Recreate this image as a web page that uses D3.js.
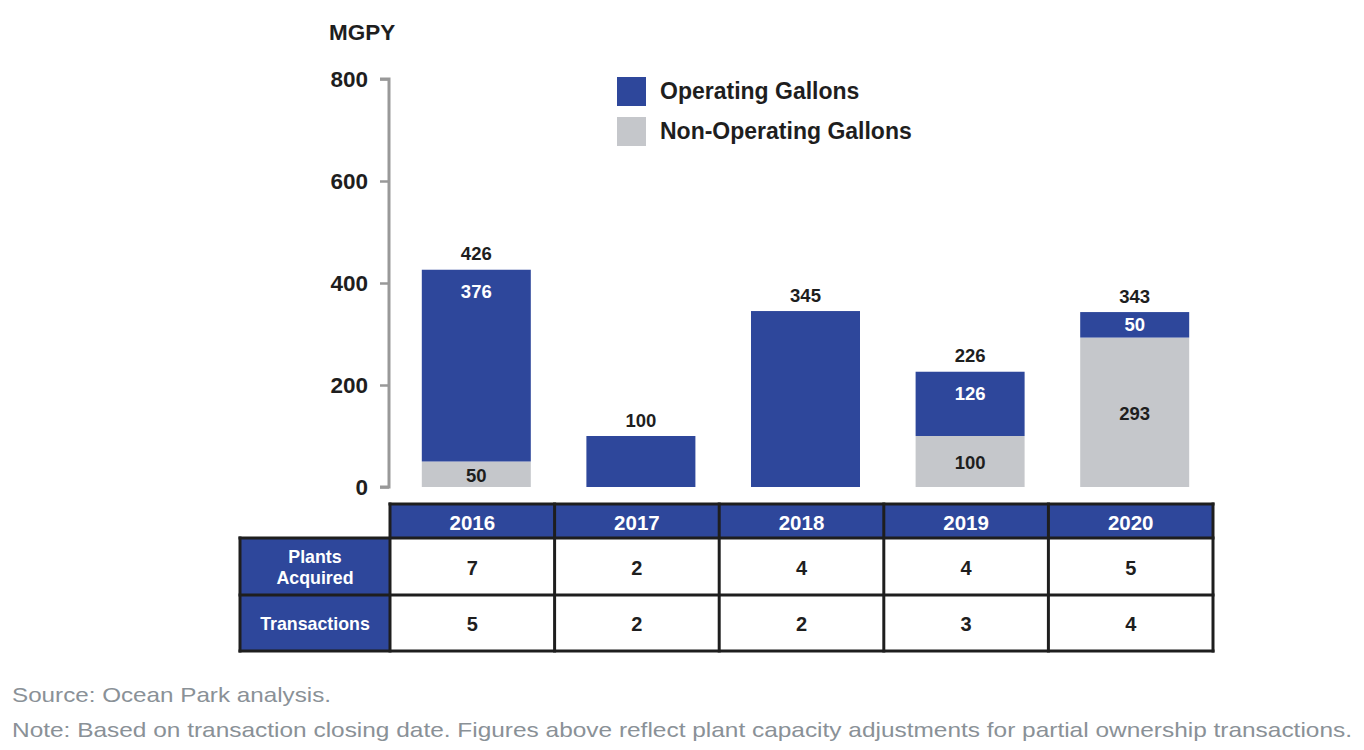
<!DOCTYPE html>
<html><head><meta charset="utf-8">
<script src="https://cdn.jsdelivr.net/npm/d3@7"></script>
<style>body{margin:0;background:#fff;}svg{display:block;font-family:"Liberation Sans",Arial,sans-serif;}</style>
</head><body>
<svg id="chart" width="1364" height="750"></svg>
<script>
const years = ["2016","2017","2018","2019","2020"];
const operating = [376,100,345,126,50];
const nonOperating = [50,0,0,100,293];
const totals = [426,100,345,226,343];
const plantsAcquired = [7,2,4,4,5];
const transactions = [5,2,2,3,4];
const yTicks = [0,200,400,600,800];
const seriesNames = ["Operating Gallons","Non-Operating Gallons"];
const rowLabels = [["Plants","Acquired"],["Transactions"]];
const sourceText = "Source: Ocean Park analysis.";
const noteText = "Note: Based on transaction closing date. Figures above reflect plant capacity adjustments for partial ownership transactions.";

const BLUE = "#2e479b", GRAY = "#c5c7cb", DARK = "#1e1e1e";
const svg = d3.select("#chart");

const y = d3.scaleLinear().domain([0,800]).range([487,79]);
const x = d3.scaleBand().domain(years).range([390,1213]).paddingInner(0.0).paddingOuter(0);
const barW = 109;
const bx = d => x(d) + (x.bandwidth()-barW)/2 + 4;

// Axis
const axisG = svg.append("g").attr("transform","translate(389,0)");
axisG.call(d3.axisLeft(y).tickValues(yTicks).tickSize(9).tickPadding(12).tickFormat(d3.format("d")));
axisG.select(".domain").attr("stroke","#999").attr("stroke-width",3).attr("d","M-9,"+y(800)+"H0V"+y(0)+"H-9");
axisG.selectAll(".tick line").attr("stroke","#999").attr("stroke-width",2.5);
axisG.selectAll(".tick text").attr("fill",DARK).style("font-size","22.5px").style("font-weight","bold").attr("font-family","Liberation Sans, Arial, sans-serif");

svg.append("text").attr("x",329).attr("y",40).text("MGPY").attr("fill",DARK).style("font-size","22.5px").style("font-weight","bold");

// Bars
const data = years.map((yr,i)=>({yr,op:operating[i],non:nonOperating[i],tot:totals[i]}));
const g = svg.append("g");
g.selectAll("rect.non").data(data.filter(d=>d.non>0)).join("rect")
  .attr("x",d=>bx(d.yr)).attr("width",barW)
  .attr("y",d=>y(d.non)).attr("height",d=>y(0)-y(d.non)).attr("fill",GRAY);
g.selectAll("rect.op").data(data).join("rect")
  .attr("x",d=>bx(d.yr)).attr("width",barW)
  .attr("y",d=>y(d.non+d.op)).attr("height",d=>y(d.non)-y(d.non+d.op)).attr("fill",BLUE);

const lbl = (sel)=>sel.attr("text-anchor","middle").attr("dominant-baseline","central").style("font-size","18.5px").style("font-weight","bold");
g.selectAll("text.tot").data(data).join("text").call(lbl)
  .attr("x",d=>bx(d.yr)+barW/2).attr("y",d=>y(d.tot)-16).attr("fill",DARK).text(d=>d.tot);
const both = data.filter(d=>d.non>0 && d.op>0);
g.selectAll("text.opl").data(both).join("text").call(lbl)
  .attr("x",d=>bx(d.yr)+barW/2)
  .attr("y",d=>{const t=y(d.non+d.op), b=y(d.non); return Math.min((t+b)/2, t+22);})
  .attr("fill","#fff").text(d=>d.op);
g.selectAll("text.nonl").data(both).join("text").call(lbl)
  .attr("x",d=>bx(d.yr)+barW/2).attr("y",d=>(y(0)+y(d.non))/2+1)
  .attr("fill",DARK).text(d=>d.non);

// Legend
const leg = svg.append("g");
[BLUE,GRAY].forEach((c,i)=>{
  leg.append("rect").attr("x",617).attr("y",77+i*40).attr("width",29).attr("height",29).attr("fill",c);
  leg.append("text").attr("x",660).attr("y",91+i*40).attr("dominant-baseline","central")
    .style("font-size","23px").style("font-weight","bold").attr("fill",DARK).text(seriesNames[i]);
});

// Table
const tbl = svg.append("g");
const rowsY = [504,538,595,651];
const left = 240, colStart = 390, colEnd = 1213;
years.forEach(yr=>{
  tbl.append("rect").attr("x",x(yr)).attr("y",rowsY[0]).attr("width",x.bandwidth()).attr("height",rowsY[1]-rowsY[0]).attr("fill",BLUE);
  tbl.append("text").attr("x",x(yr)+x.bandwidth()/2).attr("y",(rowsY[0]+rowsY[1])/2+1).attr("text-anchor","middle")
    .attr("dominant-baseline","central").attr("fill","#fff").style("font-size","20.5px").style("font-weight","bold").text(yr);
});
rowLabels.forEach((lines,r)=>{
  const y0=rowsY[r+1], y1=rowsY[r+2];
  tbl.append("rect").attr("x",left).attr("y",y0).attr("width",colStart-left).attr("height",y1-y0).attr("fill",BLUE);
  const cy=(y0+y1)/2;
  lines.forEach((ln,k)=>{
    tbl.append("text").attr("x",(left+colStart)/2).attr("y",cy+1+(k-(lines.length-1)/2)*21).attr("text-anchor","middle")
      .attr("dominant-baseline","central").attr("fill","#fff").style("font-size","17.8px").style("font-weight","bold").text(ln);
  });
});
[plantsAcquired,transactions].forEach((vals,r)=>{
  const y0=rowsY[r+1], y1=rowsY[r+2];
  years.forEach((yr,i)=>{
    tbl.append("text").attr("x",x(yr)+x.bandwidth()/2).attr("y",(y0+y1)/2+1).attr("text-anchor","middle")
      .attr("dominant-baseline","central").attr("fill",DARK).style("font-size","20px").style("font-weight","bold").text(vals[i]);
  });
});
const sw=3;
const line=(x1,y1,x2,y2)=>tbl.append("line").attr("x1",x1).attr("y1",y1).attr("x2",x2).attr("y2",y2).attr("stroke",DARK).attr("stroke-width",sw).attr("stroke-linecap","square");
line(colStart,rowsY[0],colEnd,rowsY[0]);
line(left,rowsY[1],colEnd,rowsY[1]);
line(left,rowsY[2],colEnd,rowsY[2]);
line(left,rowsY[3],colEnd,rowsY[3]);
line(left,rowsY[1],left,rowsY[3]);
years.forEach(yr=>line(x(yr),rowsY[0],x(yr),rowsY[3]));
line(colEnd,rowsY[0],colEnd,rowsY[3]);

// Footer
svg.append("text").attr("x",12).attr("y",702).attr("fill","#8a9197").style("font-size","21px")
  .attr("textLength",319).attr("lengthAdjust","spacingAndGlyphs").text(sourceText);
svg.append("text").attr("x",12).attr("y",737).attr("fill","#8a9197").style("font-size","21px")
  .attr("textLength",1340).attr("lengthAdjust","spacingAndGlyphs").text(noteText);
</script>
</body></html>
